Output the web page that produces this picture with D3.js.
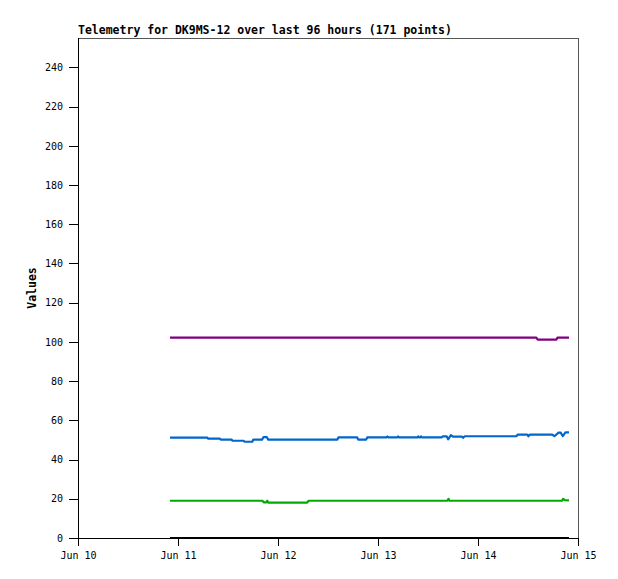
<!DOCTYPE html>
<html>
<head>
<meta charset="utf-8">
<script src="https://cdn.jsdelivr.net/npm/d3@7"></script>
<style>
	body { margin: 0; background: #fff; }
	svg text { font-family: "DejaVu Sans Mono", "Liberation Mono", monospace; fill: #000; }
	.axis path, .axis line { stroke: #000; shape-rendering: crispEdges; }
	.axis text { font-size: 10px; }
</style>
</head>
<body>
<div id="chart"></div>
<script>
// Title and axis
var title = 'Telemetry for DK9MS-12 over last 96 hours (171 points)';
var yLabel = 'Values';
var xDomain = ['2024-06-10T00:00', '2024-06-15T00:00'];
var yTicks = [0, 20, 40, 60, 80, 100, 120, 140, 160, 180, 200, 220, 240];

// Purple series
var purpleTimes = ['2024-06-10T22:05', '2024-06-14T14:00', '2024-06-14T14:20',
	'2024-06-14T18:50', '2024-06-14T19:05', '2024-06-14T21:50'];
var purpleValues = [102.2, 102.2, 101.2, 101.2, 102.2, 102.2];

// Blue series
var blueTimes = ['2024-06-10T22:05', '2024-06-11T07:00', '2024-06-11T07:15',
	'2024-06-11T10:00', '2024-06-11T10:15', '2024-06-11T12:50', '2024-06-11T13:05',
	'2024-06-11T15:45', '2024-06-11T16:00', '2024-06-11T17:50', '2024-06-11T18:05',
	'2024-06-11T20:10', '2024-06-11T20:30', '2024-06-11T21:20', '2024-06-11T21:40',
	'2024-06-12T14:15', '2024-06-12T14:30', '2024-06-12T19:00', '2024-06-12T19:15',
	'2024-06-12T21:10', '2024-06-12T21:25', '2024-06-13T02:00', '2024-06-13T02:15',
	'2024-06-13T02:30', '2024-06-13T04:40', '2024-06-13T04:50', '2024-06-13T05:05',
	'2024-06-13T09:30', '2024-06-13T09:40', '2024-06-13T09:50', '2024-06-13T10:10',
	'2024-06-13T10:20', '2024-06-13T10:30', '2024-06-13T15:15', '2024-06-13T15:30',
	'2024-06-13T16:30', '2024-06-13T16:50', '2024-06-13T17:30', '2024-06-13T18:00',
	'2024-06-13T20:10', '2024-06-13T20:25', '2024-06-13T20:50', '2024-06-14T09:15',
	'2024-06-14T09:30', '2024-06-14T11:50', '2024-06-14T12:05', '2024-06-14T12:25',
	'2024-06-14T17:50', '2024-06-14T18:20', '2024-06-14T19:20', '2024-06-14T19:50',
	'2024-06-14T20:20', '2024-06-14T21:00', '2024-06-14T21:50'];
var blueValues = [51.2, 51.2, 50.7,
	50.7, 50.2, 50.2, 49.6,
	49.6, 49.1, 49.1, 50.2,
	50.2, 51.4, 51.4, 50.2,
	50.2, 51.3, 51.3, 50.2,
	50.2, 51.3, 51.3, 51.8,
	51.3, 51.3, 51.8, 51.3,
	51.3, 51.8, 51.3, 51.3,
	51.8, 51.3, 51.3, 51.8,
	51.8, 50.3, 52.5, 51.7,
	51.7, 51.1, 51.9, 51.9,
	52.7, 52.7, 51.9, 52.7,
	52.7, 51.9, 53.7, 53.7,
	52.0, 53.9, 53.9];

// Green series
var greenTimes = ['2024-06-10T22:05', '2024-06-11T20:15', '2024-06-11T20:35',
	'2024-06-11T21:10', '2024-06-11T21:25', '2024-06-11T21:40', '2024-06-12T07:00',
	'2024-06-12T07:20', '2024-06-13T16:40', '2024-06-13T16:55', '2024-06-13T17:10',
	'2024-06-14T20:10', '2024-06-14T20:25', '2024-06-14T20:50', '2024-06-14T21:50'];
var greenValues = [19.0, 19.0, 18.2,
	18.2, 19.0, 18.0, 18.0,
	19.0, 19.0, 20.0, 19.0,
	19.0, 20.0, 19.3, 19.2];

// Black series
var blackTimes = ['2024-06-10T22:05', '2024-06-14T21:50'];
var blackValues = [0, 0];

var W = 618, H = 579;
var M = {top: 38, right: 40, bottom: 41, left: 78};
var iw = W - M.left - M.right, ih = H - M.top - M.bottom;
var parse = d3.utcParse('%Y-%m-%dT%H:%M');

var svg = d3.select('#chart').append('svg')
	.attr('width', W).attr('height', H);

var x = d3.scaleUtc().domain(xDomain.map(parse)).range([M.left, M.left + iw]);
var y = d3.scaleLinear().domain([0, 255]).range([M.top + ih, M.top]);

// frame: grey top / right edges
svg.append('path')
	.attr('d', 'M' + M.left + ',' + M.top + 'H' + (M.left + iw) + 'V' + (M.top + ih))
	.attr('fill', 'none').attr('stroke', '#555')
	.attr('shape-rendering', 'crispEdges');

svg.append('g').attr('class', 'axis')
	.attr('transform', 'translate(0,' + (M.top + ih) + ')')
	.call(d3.axisBottom(x).ticks(d3.utcDay.every(1)).tickFormat(d3.utcFormat('%b %d'))
		.tickSizeOuter(0).tickSize(8).tickPadding(6));

svg.append('g').attr('class', 'axis')
	.attr('transform', 'translate(' + M.left + ',0)')
	.call(d3.axisLeft(y).tickValues(yTicks).tickSizeOuter(0).tickSize(9).tickPadding(6));

svg.selectAll('.axis .domain').remove();
svg.append('line')
	.attr('x1', M.left).attr('x2', M.left).attr('y1', M.top).attr('y2', M.top + ih)
	.attr('stroke', '#000').attr('shape-rendering', 'crispEdges');
svg.append('line')
	.attr('x1', M.left).attr('x2', M.left + iw).attr('y1', M.top + ih).attr('y2', M.top + ih)
	.attr('stroke', '#000').attr('shape-rendering', 'crispEdges');

var line = d3.line()
	.x(function(d) { return x(d.t); })
	.y(function(d) { return y(d.v); });

function draw(times, values, color) {
	var data = times.map(function(t, i) { return {t: parse(t), v: values[i]}; });
	svg.append('path').datum(data)
		.attr('d', line)
		.attr('fill', 'none')
		.attr('stroke', color)
		.attr('stroke-width', 2.2)
		.attr('stroke-linejoin', 'round');
}

draw(purpleTimes, purpleValues, '#800080');
draw(blueTimes, blueValues, '#0066cc');
draw(greenTimes, greenValues, '#00aa00');
draw(blackTimes, blackValues, '#000');

svg.append('text')
	.attr('x', M.left).attr('y', 34)
	.attr('font-size', '11.5px').attr('font-weight', 'bold')
	.text(title);

svg.append('text')
	.attr('transform', 'translate(36,' + (M.top + ih / 2) + ') rotate(-90)')
	.attr('text-anchor', 'middle')
	.attr('font-size', '11.5px').attr('font-weight', 'bold')
	.text(yLabel);
</script>
</body>
</html>
